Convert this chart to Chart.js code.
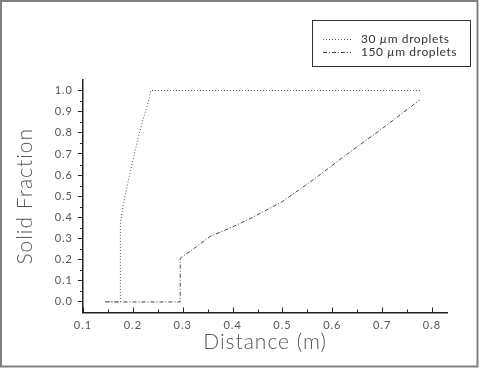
<!DOCTYPE html>
<html>
<head>
<meta charset="utf-8">
<script src="https://cdn.jsdelivr.net/npm/chart.js@4/dist/chart.umd.min.js"></script>
<style>
html,body{margin:0;padding:0;background:#fff;}
canvas{display:block;}
</style>
</head>
<body>
<canvas id="c" width="479" height="368"></canvas>
<script>
// ---- data ----
const seriesNames = ["30 \u00b5m droplets", "150 \u00b5m droplets"];
const x30 = [0.145, 0.175, 0.175, 0.18, 0.19, 0.20, 0.21, 0.22, 0.23, 0.236, 0.78];
const y30 = [0, 0, 0.37, 0.45, 0.565, 0.67, 0.77, 0.86, 0.94, 1.0, 1.0];
const x150 = [0.145, 0.295, 0.295, 0.315, 0.355, 0.40, 0.44, 0.50, 0.56, 0.63, 0.70, 0.775];
const y150 = [0, 0, 0.207, 0.24, 0.31, 0.355, 0.40, 0.475, 0.575, 0.70, 0.82, 0.955];
const xTicks = [0.1, 0.2, 0.3, 0.4, 0.5, 0.6, 0.7, 0.8];
const xTickLabels = ["0.1", "0.2", "0.3", "0.4", "0.5", "0.6", "0.7", "0.8"];
const yTicks = [0, 0.1, 0.2, 0.3, 0.4, 0.5, 0.6, 0.7, 0.8, 0.9, 1.0];
const yTickLabels = ["0.0", "0.1", "0.2", "0.3", "0.4", "0.5", "0.6", "0.7", "0.8", "0.9", "1.0"];
const xMinor = [0.15, 0.25, 0.35, 0.45, 0.55, 0.65, 0.75];
const yMinor = [0.05, 0.15, 0.25, 0.35, 0.45, 0.55, 0.65, 0.75, 0.85, 0.95];
const xTitle = "Distance (m)";
const yTitle = "Solid Fraction";

const pts = (xs, ys) => xs.map((x, i) => ({x: x, y: ys[i]}));
const FONT = "Lato, 'Open Sans', 'DejaVu Sans', sans-serif";
const dashes = [[1, 2], [4, 2, 1, 2]];
const lineColors = ["#555", "#444"];

const framePlugin = {
  id: 'frame',
  beforeDraw(chart) {
    const ctx = chart.ctx;
    ctx.save();
    ctx.fillStyle = '#fff';
    ctx.fillRect(0, 0, chart.width, chart.height);
    ctx.restore();
    ctx.letterSpacing = '1px';
  },
  afterDraw(chart) {
    const ctx = chart.ctx;
    const xs = chart.scales.x, ys = chart.scales.y;
    ctx.save();
    // x ticks (inward)
    ctx.strokeStyle = '#222';
    ctx.lineWidth = 1;
    const yb = ys.bottom;
    xTicks.forEach(v => {
      const px = Math.round(xs.getPixelForValue(v)) + 0.5;
      ctx.beginPath(); ctx.moveTo(px, yb); ctx.lineTo(px, yb - 5); ctx.stroke();
    });
    xMinor.forEach(v => {
      const px = Math.round(xs.getPixelForValue(v)) + 0.5;
      ctx.beginPath(); ctx.moveTo(px, yb); ctx.lineTo(px, yb - 3); ctx.stroke();
    });
    // y minor ticks (outward)
    const xl = xs.left;
    yMinor.forEach(v => {
      const py = Math.round(ys.getPixelForValue(v)) + 0.5;
      ctx.beginPath(); ctx.moveTo(xl, py); ctx.lineTo(xl - 3, py); ctx.stroke();
    });
    // legend box
    const lx = 312.5, ly = 20.5, lw = 158, lh = 46;
    ctx.strokeStyle = '#333';
    ctx.lineWidth = 1;
    ctx.strokeRect(lx, ly, lw, lh);
    const rows = [39.5, 52.5];
    ctx.letterSpacing = '0.6px';
    chart.data.datasets.forEach((ds, i) => {
      ctx.setLineDash(dashes[i]);
      ctx.strokeStyle = lineColors[i];
      ctx.beginPath(); ctx.moveTo(323, rows[i]); ctx.lineTo(351, rows[i]); ctx.stroke();
      ctx.setLineDash([]);
      const parts = ds.label.split('\u00b5');
      ctx.fillStyle = '#333';
      ctx.textBaseline = 'middle';
      let x = 361;
      ctx.font = "12px " + FONT;
      ctx.fillText(parts[0], x, rows[i]); x += ctx.measureText(parts[0]).width;
      ctx.font = "italic 12px " + FONT;
      ctx.fillText('\u00b5', x, rows[i]); x += ctx.measureText('\u00b5').width;
      ctx.font = "12px " + FONT;
      ctx.fillText(parts[1], x, rows[i]);
    });
    // outer frame
    ctx.letterSpacing = '0px';
    ctx.strokeStyle = '#808080';
    ctx.lineWidth = 2;
    ctx.strokeRect(1, 1, chart.width - 2.5, chart.height - 2.5);
    ctx.restore();
  }
};

new Chart(document.getElementById('c'), {
  type: 'scatter',
  data: {
    datasets: [
      { label: seriesNames[0], data: pts(x30, y30), showLine: true, borderColor: lineColors[0],
        borderWidth: 1, borderDash: dashes[0], pointRadius: 0, tension: 0, fill: false },
      { label: seriesNames[1], data: pts(x150, y150), showLine: true, borderColor: lineColors[1],
        borderWidth: 1, borderDash: dashes[1], pointRadius: 0, tension: 0, fill: false }
    ]
  },
  options: {
    responsive: false,
    animation: false,
    devicePixelRatio: 1,
    layout: { padding: { left: 0, top: 80, right: 32, bottom: 0 } },
    plugins: { legend: { display: false }, tooltip: { enabled: false } },
    scales: {
      x: {
        type: 'linear', min: 0.1, max: 0.83,
        afterBuildTicks: s => { s.ticks = xTicks.map(v => ({value: v})); },
        afterFit: s => { s.height = 55.5; },
        border: { display: true, color: '#222', width: 1.5 },
        grid: { display: true, drawOnChartArea: false, drawTicks: false },
        ticks: { padding: 6, color: '#555', font: { family: FONT, size: 11 },
          maxRotation: 0, autoSkip: false,
          callback: (v, i) => xTickLabels[i] },
        title: { display: true, text: xTitle, color: '#555', font: { family: FONT, size: 21, weight: 300 },
          padding: { top: 4, bottom: 13 } }
      },
      y: {
        type: 'linear', min: -0.05, max: 1.05,
        afterBuildTicks: s => { s.ticks = yTicks.map(v => ({value: v})); },
        afterFit: s => { s.width = 83; },
        border: { display: true, color: '#222', width: 1.5 },
        grid: { display: true, drawOnChartArea: false, drawTicks: true, tickLength: 5, color: '#222' },
        ticks: { padding: 5, color: '#555', font: { family: FONT, size: 11 }, autoSkip: false,
          callback: (v, i) => yTickLabels[i] },
        title: { display: true, text: yTitle, color: '#555', font: { family: FONT, size: 21, weight: 300 },
          padding: { top: 13, bottom: 6 } }
      }
    }
  },
  plugins: [framePlugin]
});
</script>
</body>
</html>
